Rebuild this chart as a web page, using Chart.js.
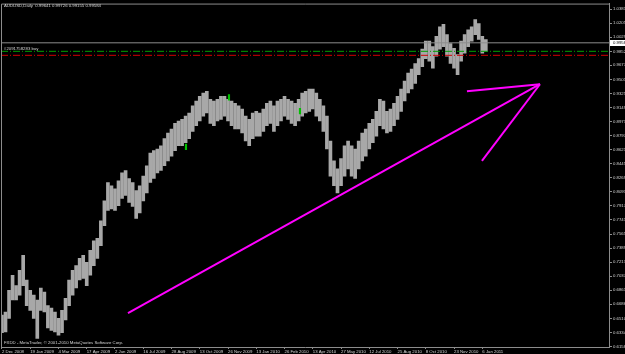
<!DOCTYPE html>
<html>
<head>
<meta charset="utf-8">
<script src="https://cdn.jsdelivr.net/npm/chart.js@4.4.0/dist/chart.umd.min.js"></script>
<style>
  html, body { margin: 0; padding: 0; background: #000; }
</style>
</head>
<body>
<canvas id="chart" width="625" height="354"></canvas>
<script>
// AUDUSD daily, one sample every 4 trading days starting 2 Dec 2008 (high / low)
const highs = [
  0.655, 0.659, 0.686, 0.705, 0.692, 0.711, 0.730, 0.699, 0.686, 0.680,
  0.674, 0.689, 0.684, 0.667, 0.664, 0.659, 0.651, 0.661, 0.676, 0.699,
  0.711, 0.717, 0.726, 0.730, 0.721, 0.736, 0.748, 0.751, 0.773, 0.798,
  0.821, 0.817, 0.813, 0.823, 0.833, 0.836, 0.826, 0.821, 0.811, 0.817,
  0.829, 0.842, 0.858, 0.861, 0.863, 0.867, 0.876, 0.883, 0.888, 0.895,
  0.898, 0.900, 0.904, 0.908, 0.917, 0.923, 0.929, 0.933, 0.935, 0.925,
  0.923, 0.925, 0.929, 0.929, 0.925, 0.923, 0.920, 0.917, 0.913, 0.904,
  0.900, 0.908, 0.910, 0.908, 0.913, 0.920, 0.923, 0.917, 0.923, 0.925,
  0.929, 0.925, 0.923, 0.920, 0.925, 0.933, 0.935, 0.938, 0.938, 0.933,
  0.925, 0.917, 0.904, 0.873, 0.848, 0.838, 0.851, 0.867, 0.873, 0.867,
  0.863, 0.873, 0.883, 0.888, 0.895, 0.900, 0.910, 0.925, 0.923, 0.910,
  0.913, 0.920, 0.929, 0.938, 0.948, 0.958, 0.963, 0.970, 0.976, 0.988,
  0.998, 0.998, 0.991, 1.004, 1.016, 1.019, 1.006, 0.995, 0.989, 0.981,
  0.998, 1.006, 1.012, 1.016, 1.025, 1.020, 1.004, 1.000
];
const lows = [
  0.633, 0.634, 0.651, 0.674, 0.674, 0.680, 0.692, 0.667, 0.661, 0.651,
  0.626, 0.661, 0.659, 0.639, 0.636, 0.634, 0.630, 0.633, 0.649, 0.667,
  0.680, 0.689, 0.699, 0.701, 0.692, 0.705, 0.717, 0.726, 0.742, 0.767,
  0.786, 0.788, 0.786, 0.792, 0.801, 0.805, 0.796, 0.791, 0.776, 0.783,
  0.798, 0.808, 0.821, 0.826, 0.833, 0.836, 0.842, 0.848, 0.854, 0.861,
  0.867, 0.867, 0.871, 0.876, 0.885, 0.892, 0.898, 0.904, 0.908, 0.895,
  0.892, 0.898, 0.900, 0.904, 0.898, 0.892, 0.888, 0.888, 0.883, 0.873,
  0.867, 0.876, 0.879, 0.879, 0.885, 0.892, 0.895, 0.885, 0.892, 0.898,
  0.904, 0.900, 0.895, 0.892, 0.898, 0.904, 0.908, 0.910, 0.913, 0.904,
  0.898, 0.885, 0.863, 0.829, 0.817, 0.808, 0.817, 0.829, 0.838, 0.829,
  0.826, 0.838, 0.848, 0.854, 0.863, 0.871, 0.879, 0.892, 0.888, 0.883,
  0.885, 0.892, 0.900, 0.910, 0.923, 0.933, 0.938, 0.945, 0.956, 0.966,
  0.976, 0.973, 0.964, 0.979, 0.988, 0.991, 0.979, 0.970, 0.964, 0.956,
  0.973, 0.983, 0.991, 0.998, 1.006, 1.000, 0.983, 0.985
];
const sampleBars = highs.map((_, i) => i * 4);

// time axis: bar number of each date label
const dateBars = [0, 32, 64, 96, 128, 160, 192, 224, 256, 288, 320, 352, 384, 416, 448, 480, 512, 544];
const dateLabels = [
  '2 Dec 2008', '19 Jan 2009', '4 Mar 2009', '17 Apr 2009', '2 Jun 2009', '16 Jul 2009',
  '28 Aug 2009', '13 Oct 2009', '26 Nov 2009', '13 Jan 2010', '26 Feb 2010', '13 Apr 2010',
  '27 May 2010', '12 Jul 2010', '25 Aug 2010', '8 Oct 2010', '23 Nov 2010', '6 Jan 2011'
];

// price axis labels
const priceTicks = [
  '0.61580', '0.63340', '0.65100', '0.66860', '0.68610', '0.70370', '0.72130', '0.73890',
  '0.75650', '0.77410', '0.79170', '0.80930', '0.82690', '0.84450', '0.86210', '0.87970',
  '0.89730', '0.91490', '0.93250', '0.95010', '0.96770', '0.98520', '1.00290', '1.02050', '1.03810'
];

// last bar OHLC, open order and its stop
const lastBar = ['0.99641', '0.99726', '0.99155', '0.99584'];
const bidPrice = 0.99584;
const orderPrice = 0.9852;
const stopPrice = 0.9802;
const orderTicket = '#2091758283 buy';

// small green marks
const markBars = [208.4, 257.1, 337.5];
const markHighs = [0.869, 0.931, 0.914];
const markLows = [0.862, 0.924, 0.907];

// hand drawn magenta arrow (bar number, price)
const trendLine = [{ x: 142.7, y: 0.6575 }, { x: 609.3, y: 0.9440 }];
const arrowTop = [{ x: 526.6, y: 0.9353 }, { x: 609.3, y: 0.9440 }];
const arrowBottom = [{ x: 543.6, y: 0.8481 }, { x: 609.3, y: 0.9440 }];

const xMin = -1.1;
const xMax = 687.5;
const axisColor = '#8c8c8c';
const textColor = '#d4d4d4';

Chart.defaults.font.family = '"Liberation Sans", Arial, sans-serif';
Chart.defaults.font.size = 4.3;

const overlay = {
  id: 'overlay',
  beforeDraw(chart) {
    const ctx = chart.ctx;
    ctx.save();
    ctx.fillStyle = '#000';
    ctx.fillRect(0, 0, chart.width, chart.height);
    ctx.restore();
  },
  afterDraw(chart) {
    const { ctx, chartArea, scales } = chart;
    ctx.save();
    // top and left frame
    ctx.strokeStyle = axisColor;
    ctx.lineWidth = 1;
    ctx.beginPath();
    ctx.moveTo(chartArea.left + 0.5, chartArea.bottom);
    ctx.lineTo(chartArea.left + 0.5, chartArea.top + 0.5);
    ctx.lineTo(chartArea.right, chartArea.top + 0.5);
    ctx.stroke();

    ctx.font = '4.3px "Liberation Sans", Arial, sans-serif';
    ctx.textBaseline = 'middle';
    ctx.fillStyle = textColor;
    ctx.fillText('AUDUSD,Daily  ' + lastBar.join(' '), 4, 5.5);
    ctx.fillText('FXDD - MetaTrader, \u00a9 2001-2010 MetaQuotes Software Corp.', 4, 343);
    ctx.fillText(orderTicket, 4, scales.y.getPixelForValue(orderPrice) - 3);

    // bid price box on the price axis
    const by = Math.round(scales.y.getPixelForValue(bidPrice));
    ctx.fillStyle = '#ffffff';
    ctx.fillRect(chartArea.right + 1, by - 3, 20, 6);
    ctx.fillStyle = '#000000';
    ctx.fillText(bidPrice.toFixed(5), chartArea.right + 4, by);
    ctx.restore();
  }
};

const hLine = (price, color, dash) => ({
  type: 'line',
  data: [{ x: xMin, y: price }, { x: xMax, y: price }],
  borderColor: color,
  borderWidth: 1,
  borderDash: dash,
  pointRadius: 0,
  order: 1
});

const arrowLine = pts => ({
  type: 'line',
  data: pts,
  borderColor: '#ff00ff',
  borderWidth: 2,
  pointRadius: 0,
  order: 0
});

new Chart(document.getElementById('chart'), {
  type: 'bar',
  data: {
    datasets: [
      arrowLine(trendLine),
      arrowLine(arrowTop),
      arrowLine(arrowBottom),
      hLine(bidPrice, '#8c8c8c', []),
      hLine(orderPrice, '#00a000', [7, 2, 1, 2]),
      hLine(stopPrice, '#d00000', [7, 2, 1, 2]),
      {
        type: 'bar',
        data: markBars.map((b, i) => ({ x: b, y: [markLows[i], markHighs[i]] })),
        backgroundColor: '#00c000',
        barThickness: 1.5,
        grouped: false,
        order: 2
      },
      {
        type: 'bar',
        data: sampleBars.map((b, i) => ({ x: b, y: [lows[i], highs[i]] })),
        backgroundColor: '#a8a8a8',
        barThickness: 3,
        grouped: false,
        order: 3
      }
    ]
  },
  options: {
    responsive: false,
    animation: false,
    devicePixelRatio: 1,
    layout: { padding: { left: 1, top: 2, right: 0, bottom: 0 } },
    plugins: { legend: { display: false }, tooltip: { enabled: false } },
    scales: {
      x: {
        type: 'linear',
        offset: false,
        min: xMin,
        max: xMax,
        afterBuildTicks: s => { s.ticks = dateBars.map(v => ({ value: v })); },
        afterFit: s => { s.height = 7; },
        ticks: {
          align: 'start',
          autoSkip: false,
          maxRotation: 0,
          padding: 0,
          color: textColor,
          callback: (v, i) => dateLabels[i]
        },
        grid: { drawOnChartArea: false, offset: false, color: axisColor, tickLength: 2 },
        border: { color: axisColor }
      },
      y: {
        position: 'right',
        min: 0.61515,
        max: 1.04495,
        afterBuildTicks: s => { s.ticks = priceTicks.map(t => ({ value: parseFloat(t) })); },
        afterFit: s => { s.width = 16; },
        ticks: {
          padding: 1,
          color: textColor,
          callback: (v, i) => priceTicks[i]
        },
        grid: { drawOnChartArea: false, color: axisColor, tickLength: 3 },
        border: { color: axisColor }
      }
    }
  },
  plugins: [overlay]
});
</script>
</body>
</html>
